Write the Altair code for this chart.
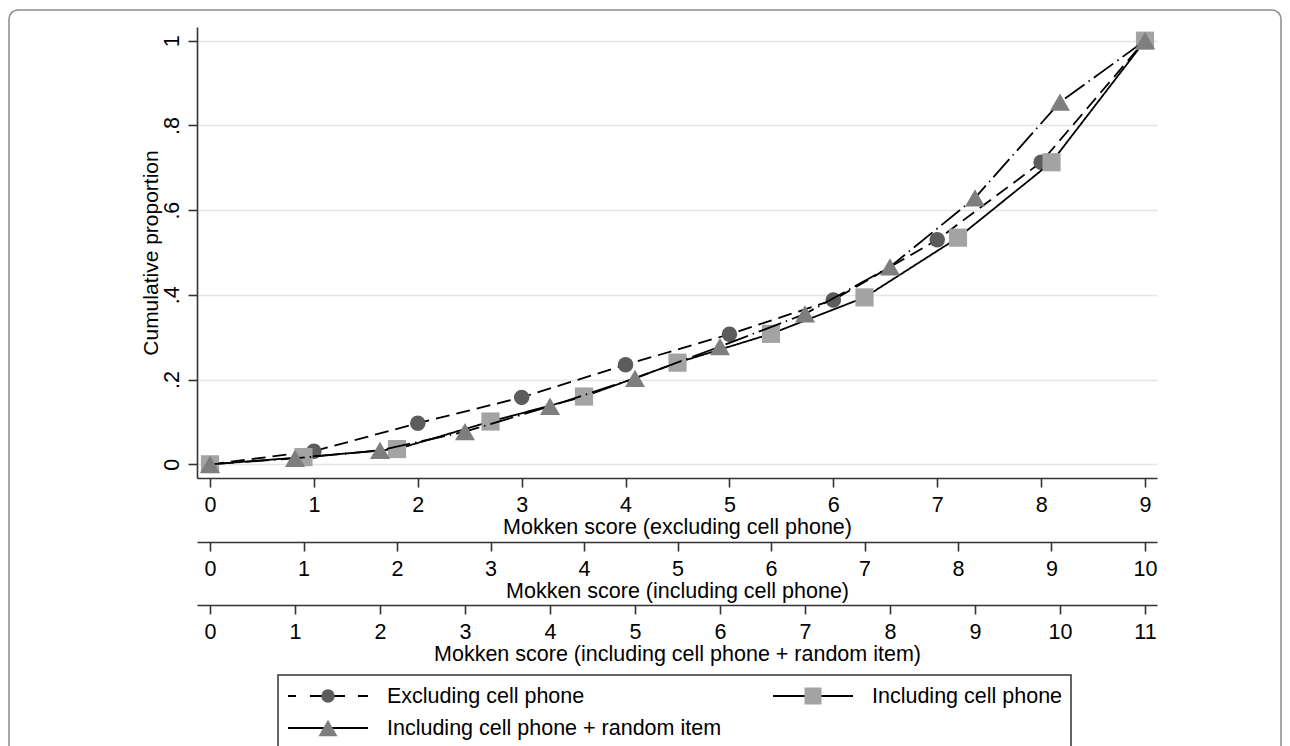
import altair as alt
import pandas as pd

FONT = "Liberation Sans"

# ---------------- data ----------------
names = ["Excluding cell phone", "Including cell phone", "Including cell phone + random item"]

excl_scores = list(range(10))
excl_props = [0.0, 0.031, 0.097, 0.158, 0.235, 0.307, 0.388, 0.530, 0.713, 1.0]

incl_scores = list(range(11))
incl_props = [0.0, 0.017, 0.036, 0.101, 0.160, 0.240, 0.308, 0.394, 0.535, 0.713, 1.0]

rand_scores = list(range(12))
rand_props = [0.0, 0.014, 0.033, 0.077, 0.137, 0.203, 0.278, 0.355, 0.466, 0.629, 0.855, 1.0]

x_titles = [
    "Mokken score (excluding cell phone)",
    "Mokken score (including cell phone)",
    "Mokken score (including cell phone + random item)",
]
y_title = "Cumulative proportion"
y_ticks = [0, 0.2, 0.4, 0.6, 0.8, 1.0]
y_tick_labels = ["0", ".2", ".4", ".6", ".8", "1"]

# ---------------- styles ----------------
dashes = [[14, 7], [1, 0], [24, 5, 1.5, 5]]
legend_dashes = [[8, 14, 35, 13, 10], [1, 0], [1, 0]]
marker_colors = ["#5c5c5c", "#a3a3a3", "#7e7e7e"]
shapes = ["circle", "square", "triangle-up"]
sizes = [240, 330, 400]
legend_sizes = [180, 290, 360]
offsets = [0, 64, 127]

W, H = 960, 451

label_expr = "[" + ",".join("'%s'" % s for s in y_tick_labels) + "][round(datum.value*5)]"

y_enc = alt.Y(
    "prop:Q",
    scale=alt.Scale(domain=[-0.0323, 1.0323], nice=False, zero=False),
    axis=alt.Axis(
        values=y_ticks,
        labelExpr=label_expr,
        title=y_title,
        grid=True,
        gridColor="#e4e4e4",
        gridWidth=1.6,
        labelAngle=270,
        labelAlign="center",
        labelBaseline="alphabetic",
        labelPadding=10,
        titleAngle=270,
        titleAlign="center",
        titleBaseline="alphabetic",
        titleX=-40,
        titleY=H / 2,
        titleFontSize=21,
    ),
)


def series_layer(i, scores, props):
    n = max(scores)
    df = pd.DataFrame({"score": scores, "prop": props, "series": names[i]})
    lo = -n * 13 / 935
    hi = n + n * 12 / 935
    x_enc = alt.X(
        "score:Q",
        scale=alt.Scale(domain=[lo, hi], nice=False, zero=False),
        axis=alt.Axis(
            values=scores,
            title=x_titles[i],
            orient="bottom",
            offset=offsets[i],
            grid=False,
            labelPadding=24.5,
            labelBaseline="alphabetic",
            titleBaseline="alphabetic",
            titleY=55,
            titleX=W / 2,
        ),
    )
    line = alt.Chart(df).mark_line(
        color="black", strokeWidth=1.8, strokeDash=dashes[i]
    ).encode(x=x_enc, y=y_enc)
    pts = alt.Chart(df).mark_point(
        shape=shapes[i], filled=True, size=sizes[i], color=marker_colors[i],
        opacity=1, strokeWidth=0,
    ).encode(x=x_enc, y=y_enc)
    return alt.layer(line, pts)


layers = [
    series_layer(0, excl_scores, excl_props),
    series_layer(1, incl_scores, incl_props),
    series_layer(2, rand_scores, rand_props),
]

# ---------------- legend (drawn below the axes) ----------------
one = pd.DataFrame({"f": [0]})
LX, LY = 81, 648           # legend box top-left, relative to plot origin
entry_pos = [(91, 669), (576, 669), (91, 701)]   # (line start x, centre y)
SYM_W, TXT_GAP = 80, 99

legend_layers = [
    alt.Chart(one).mark_rect(
        fillOpacity=0, stroke="#333333", strokeWidth=1.5, clip=False
    ).encode(x=alt.value(LX), x2=alt.value(874), y=alt.value(LY), y2=alt.value(780))
]
for i, (ex, ey) in enumerate(entry_pos):
    lab = pd.DataFrame({"label": [names[i]]})
    legend_layers.append(
        alt.Chart(lab).mark_rule(
            color="black", strokeWidth=1.8, strokeDash=legend_dashes[i], clip=False
        ).encode(x=alt.value(ex), x2=alt.value(ex + SYM_W), y=alt.value(ey))
    )
    legend_layers.append(
        alt.Chart(lab).mark_point(
            shape=shapes[i], filled=True, size=legend_sizes[i], color=marker_colors[i],
            opacity=1, strokeWidth=0, clip=False,
        ).encode(x=alt.value(ex + SYM_W / 2), y=alt.value(ey))
    )
    legend_layers.append(
        alt.Chart(lab).mark_text(
            align="left", baseline="middle", font=FONT, fontSize=21.5, color="black",
            clip=False,
        ).encode(x=alt.value(ex + TXT_GAP), y=alt.value(ey + 1), text="label:N")
    )

frame = alt.Chart(one).mark_rect(
    fillOpacity=0, stroke="#8c8c8c", strokeWidth=1.5, cornerRadius=9, clip=False
).encode(
    x=alt.value(-188), x2=alt.value(1084), y=alt.value(-17), y2=alt.value(760)
)

chart = (
    alt.layer(*layers, *legend_layers, frame)
    .resolve_scale(x="independent")
    .properties(
        width=W,
        height=H,
        autosize=alt.AutoSizeParams(type="none"),
        padding={"left": 189, "top": 19, "right": 125, "bottom": 268},
        background="white",
    )
    .configure_view(stroke=None)
    .configure_axis(
        labelFont=FONT,
        titleFont=FONT,
        labelFontSize=21.5,
        titleFontSize=21.5,
        titleFontWeight="normal",
        labelColor="black",
        titleColor="black",
        domainColor="#333333",
        domainWidth=1.6,
        tickColor="#333333",
        tickWidth=1.6,
        tickSize=9,
    )
)

chart.save("out.html", embed_options={"renderer": "svg", "actions": False})
